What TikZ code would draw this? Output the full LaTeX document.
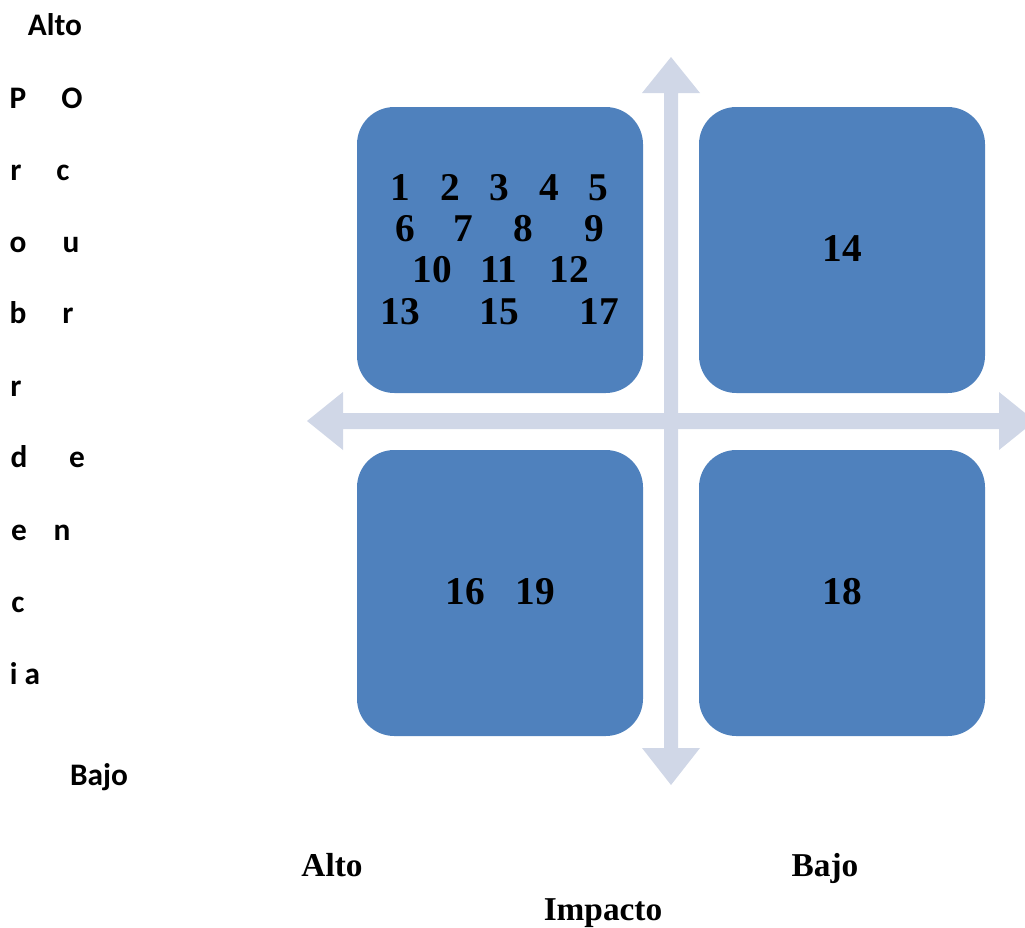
\documentclass[tikz,border=0pt]{standalone}
\usepackage{fontspec}
\setmainfont{Liberation Serif}
\newfontfamily\calib{Carlito}
\definecolor{quadblue}{HTML}{4F81BD}
\definecolor{axisgrey}{HTML}{D0D7E7}
\begin{document}
\begin{tikzpicture}[x=0.75pt,y=-0.75pt,
  quad/.style={fill=quadblue,draw=none,rounded corners=28pt,minimum width=214.5pt,minimum height=214.5pt,inner sep=0pt},
  num/.style={font=\fontsize{29.5}{31}\selectfont\bfseries,inner sep=0pt,anchor=base},
  axlabel/.style={font=\fontsize{25}{27}\selectfont\bfseries,inner sep=0pt,anchor=base},
  side/.style={font=\calib\fontsize{23.5}{25}\selectfont\bfseries,inner sep=0pt,anchor=base}]
\useasboundingbox (0,0) rectangle (1025,928);
\clip (0,0) rectangle (1025,928);

% cross of double-headed axes
\fill[axisgrey] (664,93) -- (642,93) -- (671,57) -- (700,93) -- (678,93)
  -- (678,748) -- (700,748) -- (671,785) -- (642,748) -- (664,748) -- cycle;
\fill[axisgrey] (343,413) -- (343,392) -- (307,421) -- (343,450) -- (343,429)
  -- (999,429) -- (999,450) -- (1035,421) -- (999,392) -- (999,413) -- cycle;

% four quadrants
\node[quad] (q1) at (500,250) {};
\node[quad] (q2) at (842,250) {};
\node[quad] (q3) at (500,593) {};
\node[quad] (q4) at (842,593) {};

% quadrant contents (placed on their baselines)
\node[num] (n1) at (400,200) {1};
\node[num] (n2) at (450,200) {2};
\node[num] (n3) at (499,200) {3};
\node[num] (n4) at (549,200) {4};
\node[num] (n5) at (598,200) {5};
\node[num] (n6) at (405,241) {6};
\node[num] (n7) at (463,241) {7};
\node[num] (n8) at (523,241) {8};
\node[num] (n9) at (594,241) {9};
\node[num] (n10) at (432,282) {10};
\node[num] (n11) at (499,282) {11};
\node[num] (n12) at (569,282) {12};
\node[num] (n13) at (400,324) {13};
\node[num] (n15) at (499,324) {15};
\node[num] (n17) at (599,324) {17};
\node[num] (n14) at (842,261) {14};
\node[num] (n16) at (465,604) {16};
\node[num] (n19) at (535,604) {19};
\node[num] (n18) at (842,604) {18};

% horizontal axis labels
\node[axlabel] (ialto) at (332,876) {Alto};
\node[axlabel] (ibajo) at (825,876) {Bajo};
\node[axlabel] (imp) at (603,920) {Impacto};

% vertical axis labels
\node[side] (palto) at (55,36) {Alto};
\node[side] (s1a) at (18,108) {P};
\node[side] (s1b) at (72,108) {O};
\node[side] (s2a) at (16,180) {r};
\node[side] (s2b) at (63,180) {c};
\node[side] (s3a) at (18,252) {o};
\node[side] (s3b) at (71,252) {u};
\node[side] (s4a) at (18,323) {b};
\node[side] (s4b) at (68,323) {r};
\node[side] (s5a) at (16,396) {r};
\node[side] (s6a) at (19,467) {d};
\node[side] (s6b) at (77,467) {e};
\node[side] (s7a) at (19,540) {e};
\node[side] (s7b) at (62,540) {n};
\node[side] (s8a) at (18,612) {c};
\node[side] (s9a) at (25,684) {i a};
\node[side] (pbajo) at (99,785) {Bajo};
\end{tikzpicture}
\end{document}
